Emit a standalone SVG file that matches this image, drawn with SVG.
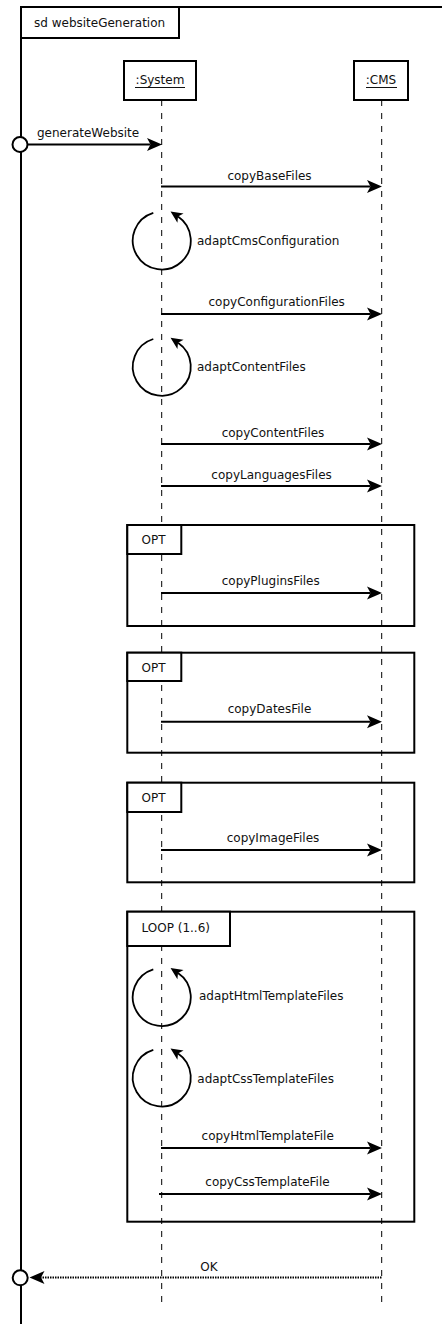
<svg xmlns="http://www.w3.org/2000/svg" width="442" height="1324" viewBox="0 0 442 1324">
<style>
text{font-family:"DejaVu Sans","Liberation Sans",sans-serif;font-size:12px;fill:#111}
.box{fill:#fff;stroke:#000;stroke-width:2}
.frag{fill:none;stroke:#000;stroke-width:2}
.life{stroke:#000;stroke-width:1;stroke-dasharray:6 7;fill:none}
.msg{stroke:#000;stroke-width:2;fill:none;marker-end:url(#arr)}
.self{stroke:#000;stroke-width:1.8;fill:none;marker-end:url(#arrs)}
.ret{stroke:#000;stroke-width:2;fill:none;stroke-dasharray:1.5 1;marker-end:url(#arr)}
.gate{fill:#fff;stroke:#000;stroke-width:2}
.m{text-anchor:middle}
</style>
<defs>
<marker id="arr" markerUnits="userSpaceOnUse" markerWidth="16" markerHeight="14" refX="3.5" refY="6.5" orient="auto" overflow="visible">
<path d="M0,0 L15,6.5 L0,13 L3.5,6.5 Z" fill="#000"/>
</marker>
<marker id="arrs" markerUnits="userSpaceOnUse" markerWidth="13" markerHeight="12" refX="3" refY="5.5" orient="auto" overflow="visible">
<path d="M0,0 L12,5.5 L0,11 L3,5.5 Z" fill="#000"/>
</marker>
</defs>

<g id="frame">
<rect class="frag" x="21" y="7" width="500" height="1400"/>
<rect class="box" x="21" y="7" width="158" height="31"/>
<text x="34" y="27">sd websiteGeneration</text>
</g>

<g id="system">
<line class="life" x1="161.7" y1="100" x2="161.7" y2="1306"/>
<rect class="box" x="124" y="61" width="72" height="39"/>
<text class="m" x="160" y="84">:System</text>
<line x1="135" y1="87.5" x2="185" y2="87.5" stroke="#111" stroke-width="1"/>
</g>

<g id="cms">
<line class="life" x1="381.7" y1="100" x2="381.7" y2="1306"/>
<rect class="box" x="354" y="61" width="54" height="39"/>
<text class="m" x="381" y="84">:CMS</text>
<line x1="366" y1="87.5" x2="397" y2="87.5" stroke="#111" stroke-width="1"/>
</g>

<g id="opt1">
<rect class="frag" x="127.3" y="525" width="287" height="101"/>
<rect class="box" x="127.3" y="525" width="54" height="29"/>
<text x="141.5" y="544">OPT</text>
</g>
<g id="opt2">
<rect class="frag" x="127.3" y="652.7" width="287" height="100"/>
<rect class="box" x="127.3" y="652.7" width="54" height="28.3"/>
<text x="141.5" y="672">OPT</text>
</g>
<g id="opt3">
<rect class="frag" x="127.3" y="782.7" width="287" height="99.6"/>
<rect class="box" x="127.3" y="782.7" width="54" height="29.3"/>
<text x="141.5" y="802">OPT</text>
</g>
<g id="loop">
<rect class="frag" x="127.3" y="911.7" width="287" height="310"/>
<rect class="box" x="127.3" y="911.7" width="102.7" height="34.3"/>
<text x="141.5" y="932">LOOP (1..6)</text>
</g>

<g id="connectors">
<line class="msg" x1="28" y1="144.5" x2="150.5" y2="144.5"/>
<text x="37" y="137">generateWebsite</text>

<line class="msg" x1="161" y1="186.5" x2="370.5" y2="186.5"/>
<text class="m" x="269.5" y="180">copyBaseFiles</text>

<path class="self" d="M153.3,212.8 A29,29 0 1 0 178,216.5"/>
<text x="197" y="245">adaptCmsConfiguration</text>

<line class="msg" x1="161" y1="314" x2="370.5" y2="314"/>
<text class="m" x="276.7" y="306">copyConfigurationFiles</text>

<path class="self" d="M153.3,339 A29,29 0 1 0 178,342.7"/>
<text x="197" y="371">adaptContentFiles</text>

<line class="msg" x1="161" y1="444" x2="370.5" y2="444"/>
<text class="m" x="273" y="437">copyContentFiles</text>

<line class="msg" x1="161" y1="486" x2="370.5" y2="486"/>
<text class="m" x="271.6" y="478.5">copyLanguagesFiles</text>

<line class="msg" x1="161" y1="593" x2="370.5" y2="593"/>
<text class="m" x="270.7" y="584.5">copyPluginsFiles</text>

<line class="msg" x1="161" y1="721.7" x2="370.5" y2="721.7"/>
<text class="m" x="269.5" y="713">copyDatesFile</text>

<line class="msg" x1="161" y1="850" x2="370.5" y2="850"/>
<text class="m" x="273" y="842">copyImageFiles</text>

<path class="self" d="M153.3,969.3 A29,29 0 1 0 178,973"/>
<text x="199" y="1000">adaptHtmlTemplateFiles</text>

<path class="self" d="M153.3,1049.8 A29,29 0 1 0 178,1053.5"/>
<text x="197.3" y="1083">adaptCssTemplateFiles</text>

<line class="msg" x1="161" y1="1148" x2="370.5" y2="1148"/>
<text class="m" x="267.7" y="1139.5">copyHtmlTemplateFile</text>

<line class="msg" x1="159" y1="1194" x2="370.5" y2="1194"/>
<text class="m" x="267.5" y="1186">copyCssTemplateFile</text>

<line class="ret" x1="381.5" y1="1277.5" x2="41" y2="1277.5"/>
<text class="m" x="209" y="1271">OK</text>
</g>

<g id="gates">
<circle class="gate" cx="20" cy="144.5" r="7.5"/>
<circle class="gate" cx="20.2" cy="1277.8" r="7.5"/>
</g>
</svg>
